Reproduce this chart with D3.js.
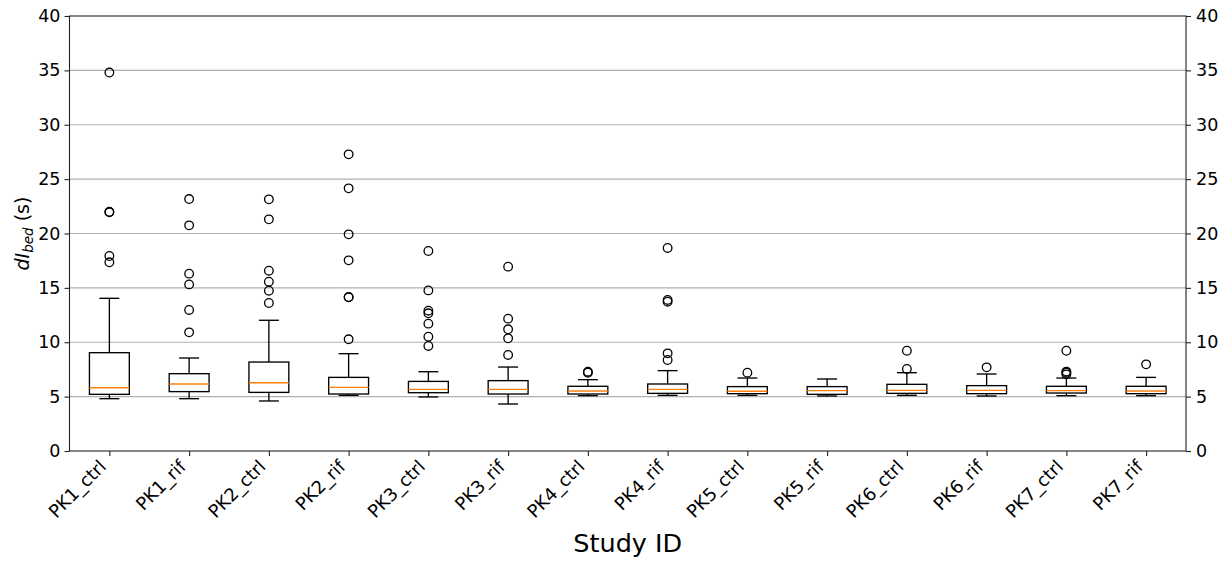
<!DOCTYPE html>
<html>
<head>
<meta charset="utf-8">
<script src="https://cdn.jsdelivr.net/npm/d3@7"></script>
<style>
  body { margin: 0; background: #fff; }
  text { font-family: "DejaVu Sans", sans-serif; fill: #000; }
</style>
</head>
<body>
<svg id="chart" width="1229" height="561"></svg>
<script>
const categories = ["PK1_ctrl","PK1_rif","PK2_ctrl","PK2_rif","PK3_ctrl","PK3_rif","PK4_ctrl","PK4_rif","PK5_ctrl","PK5_rif","PK6_ctrl","PK6_rif","PK7_ctrl","PK7_rif"];
const whiskerLow  = [4.81, 4.81, 4.60, 5.12, 4.97, 4.32, 5.09, 5.12, 5.12, 5.06, 5.12, 5.06, 5.09, 5.09];
const q1          = [5.21, 5.46, 5.39, 5.24, 5.36, 5.24, 5.24, 5.30, 5.27, 5.21, 5.30, 5.27, 5.33, 5.27];
const medians     = [5.82, 6.16, 6.28, 5.85, 5.67, 5.67, 5.52, 5.67, 5.49, 5.55, 5.58, 5.58, 5.55, 5.52];
const q3          = [9.04, 7.11, 8.18, 6.77, 6.40, 6.47, 5.95, 6.16, 5.92, 5.92, 6.13, 6.01, 5.95, 5.95];
const whiskerHigh = [14.04, 8.55, 12.02, 8.95, 7.29, 7.72, 6.56, 7.39, 6.71, 6.62, 7.20, 7.08, 6.71, 6.77];
const outliers = [
  [34.8, 22.0, 21.95, 17.93, 17.35],
  [23.17, 20.75, 16.31, 15.32, 12.97, 10.91],
  [23.14, 21.3, 16.58, 15.57, 14.74, 13.61],
  [27.28, 24.15, 19.92, 17.53, 14.16, 14.13, 10.27],
  [18.39, 14.77, 12.9, 12.66, 11.71, 10.51, 9.66],
  [16.95, 12.17, 11.19, 10.36, 8.83],
  [7.29, 7.2],
  [18.67, 13.89, 13.73, 8.98, 8.37],
  [7.2],
  [],
  [9.22, 7.54],
  [7.69],
  [9.22, 7.3, 7.2, 7.05],
  [7.97]
];
const yTicks = [0, 5, 10, 15, 20, 25, 30, 35, 40];
const xAxisTitle = "Study ID";

const svg = d3.select("#chart");
const mLeft = 69.5, mRight = 1186, mTop = 16, mBottom = 451;
const tickFont = 17.5;
const xTickFont = 18;

const x = d3.scalePoint().domain(categories).range([mLeft, mRight]).padding(0.5);
const y = d3.scaleLinear().domain([0, 40]).range([mBottom, mTop]);
const step = x.step();
const boxHalf = step * 0.25;
const capHalf = step * 0.125;

// grid
svg.append("g").selectAll("line")
  .data(yTicks.filter(t => t > 0 && t < 40))
  .join("line")
  .attr("x1", mLeft).attr("x2", mRight)
  .attr("y1", d => y(d)).attr("y2", d => y(d))
  .attr("stroke", "#b0b0b0").attr("stroke-width", 1.1);

// axes
const axL = svg.append("g").attr("transform", `translate(${mLeft},0)`)
  .call(d3.axisLeft(y).tickValues(yTicks).tickSize(5).tickPadding(4));
const axR = svg.append("g").attr("transform", `translate(${mRight},0)`)
  .call(d3.axisRight(y).tickValues(yTicks).tickSize(5).tickPadding(5));
const axB = svg.append("g").attr("transform", `translate(0,${mBottom})`)
  .call(d3.axisBottom(x).tickSize(5).tickFormat(""));
[axL, axR, axB].forEach(a => {
  a.select(".domain").remove();
  a.selectAll(".tick line").attr("stroke", "#222").attr("stroke-width", 1.1);
  a.selectAll(".tick text").style("font-size", tickFont + "px").style("font-family", "DejaVu Sans");
});

// x tick labels rotated (baseline end placed so ink top-right sits under the tick)
svg.append("g").selectAll("text")
  .data(categories)
  .join("text")
  .attr("transform", d => `translate(${x(d) - 2},${458 + 0.537 * xTickFont}) rotate(-45)`)
  .attr("text-anchor", "end")
  .style("font-size", xTickFont + "px")
  .text(d => d);

// spines
svg.append("rect")
  .attr("x", mLeft).attr("y", mTop)
  .attr("width", mRight - mLeft).attr("height", mBottom - mTop)
  .attr("fill", "none").attr("stroke", "#222").attr("stroke-width", 1.1);

// boxes
const g = svg.append("g");
categories.forEach((c, i) => {
  const cx = x(c);
  const stroke = "#000", sw = 1.35;
  g.append("line").attr("x1", cx).attr("x2", cx)
    .attr("y1", y(q1[i])).attr("y2", y(whiskerLow[i])).attr("stroke", stroke).attr("stroke-width", sw);
  g.append("line").attr("x1", cx).attr("x2", cx)
    .attr("y1", y(q3[i])).attr("y2", y(whiskerHigh[i])).attr("stroke", stroke).attr("stroke-width", sw);
  [whiskerLow[i], whiskerHigh[i]].forEach(v => {
    g.append("line").attr("x1", cx - capHalf).attr("x2", cx + capHalf)
      .attr("y1", y(v)).attr("y2", y(v)).attr("stroke", stroke).attr("stroke-width", sw);
  });
  g.append("rect").attr("x", cx - boxHalf).attr("width", boxHalf * 2)
    .attr("y", y(q3[i])).attr("height", y(q1[i]) - y(q3[i]))
    .attr("fill", "none").attr("stroke", stroke).attr("stroke-width", sw);
  g.append("line").attr("x1", cx - boxHalf).attr("x2", cx + boxHalf)
    .attr("y1", y(medians[i])).attr("y2", y(medians[i]))
    .attr("stroke", "#ff7f0e").attr("stroke-width", 1.35);
  g.selectAll(null).data(outliers[i]).join("circle")
    .attr("cx", cx).attr("cy", d => y(d)).attr("r", 4.3)
    .attr("fill", "none").attr("stroke", stroke).attr("stroke-width", 1.3);
});

// axis titles
svg.append("text")
  .attr("x", (mLeft + mRight) / 2).attr("y", 552)
  .attr("text-anchor", "middle")
  .style("font-size", "25.5px")
  .text(xAxisTitle);

const yl = svg.append("text")
  .attr("transform", `translate(29,${(mTop + mBottom) / 2}) rotate(-90)`)
  .attr("text-anchor", "middle")
  .style("font-size", "19px");
yl.append("tspan").style("font-style", "italic").text("dI");
yl.append("tspan").style("font-style", "italic").style("font-size", "13.5px").attr("dy", "4").text("bed");
yl.append("tspan").attr("dy", "-4").text(" (s)");
</script>
</body>
</html>
